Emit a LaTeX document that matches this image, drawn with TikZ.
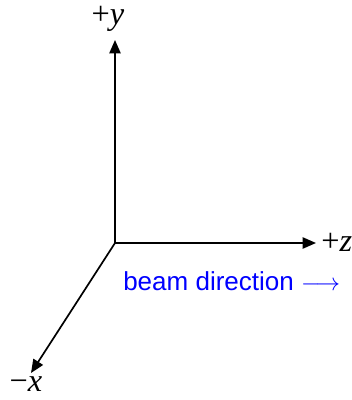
\documentclass[tikz,border=0pt]{standalone}
\usepackage{fontspec}
\setmainfont{Liberation Serif}
\newfontfamily\beamfont{Liberation Sans}
\usetikzlibrary{arrows.meta}
\definecolor{Ink}{HTML}{000000}
\definecolor{BeamBlue}{HTML}{0000FF}

\begin{document}
\begin{tikzpicture}[x=0.025cm,y=-0.025cm,every node/.style={text=Ink,inner sep=0pt},axis/.style={draw=Ink,line width=1.2pt,-{Triangle[length=9.5pt,width=8pt]}},lab/.style={font=\fontsize{23}{27}\selectfont},beam/.style={font=\beamfont\fontsize{18.5}{22}\selectfont,text=BeamBlue}]
\useasboundingbox (0,0) rectangle (352,400);
\coordinate (O) at (115,243);
\coordinate (ytip) at (115,40);
\coordinate (ztip) at (316,243);
\coordinate (xtip) at (31,373);
\draw[axis] (O) -- (ytip);
\draw[axis] (O) -- (ztip);
\draw[axis] (O) -- (xtip);
\node[lab] (ylab) at (108,19) {+\textit{y}};
\node[lab,anchor=west] (zlab) at (321,242) {+\textit{z}};
\node[lab] (xlab) at (26,384) {\textminus\textit{x}};
\node[beam,anchor=west] (beamdir) at (123,281) {beam direction $\longrightarrow$};
\end{tikzpicture}
\end{document}
